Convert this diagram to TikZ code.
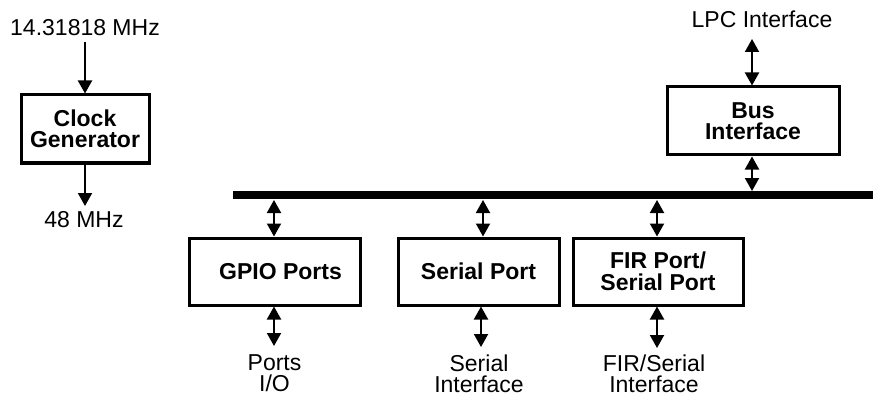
\documentclass[tikz,border=0pt]{standalone}
\usepackage{fontspec}
\setmainfont{Liberation Sans}
\usetikzlibrary{arrows.meta}
\begin{document}
\begin{tikzpicture}[x=1pt,y=-1pt,
  blk/.style={draw,line width=3pt,font=\fontsize{23}{21.5}\selectfont\bfseries,align=center,inner sep=0pt},
  lbl/.style={font=\fontsize{23}{21.5}\selectfont,align=center,inner sep=1pt},
  arr/.style={line width=2pt,-{Triangle[width=14pt,length=13pt]}},
  biarr/.style={line width=2pt,{Triangle[width=14pt,length=13pt]}-{Triangle[width=14pt,length=13pt]}},
  bus/.style={line width=8pt}]
\useasboundingbox (0,0) rectangle (874,398);
% clock
\node[blk,minimum width=128pt,minimum height=68pt] (clk) at (85,129) {Clock\\Generator};
\node[lbl] (freq) at (85,28) {14.31818 MHz};
\node[lbl] (out48) at (84,220) {48 MHz};
\draw[arr] (85,42) -- (clk.north);
\draw[arr] (clk.south) -- (85,206);
% bus bar
\coordinate (busL) at (233,195);
\coordinate (busR) at (873,195);
\draw[bus] (busL) -- (busR);
% bus interface
\node[blk,minimum width=172pt,minimum height=68pt] (bif) at (753,121) {Bus\\Interface};
\node[lbl] (lpc) at (762,19) {LPC Interface};
\coordinate (lpcT) at (752,39);
\draw[biarr] (lpcT) -- (lpcT |- bif.north);
\coordinate (bifB) at (752,191);
\draw[biarr] (bifB |- bif.south) -- (bifB);
% lower blocks
\node[blk,minimum width=171pt,minimum height=67pt] (gpio) at (274.5,271.5) {\hspace*{12pt}GPIO Ports};
\node[blk,minimum width=161pt,minimum height=67pt] (ser) at (478.5,271.5) {Serial Port};
\node[blk,minimum width=170pt,minimum height=67pt] (fir) at (658,271.5) {FIR Port/\\Serial Port};
\coordinate (gT) at (274,200);
\coordinate (sT) at (483,200);
\coordinate (fT) at (657,200);
\draw[biarr] (gT) -- (gT |- gpio.north);
\draw[biarr] (sT) -- (sT |- ser.north);
\draw[biarr] (fT) -- (fT |- fir.north);
% bottom labels
\node[lbl] (pio) at (274.5,373) {Ports\\I/O};
\node[lbl] (sif) at (479,374) {Serial\\Interface};
\node[lbl] (fif) at (654,374) {FIR/Serial\\Interface};
\coordinate (gB) at (274,346);
\coordinate (sB) at (481,347);
\coordinate (fB) at (657,348);
\draw[biarr] (gB |- gpio.south) -- (gB);
\draw[biarr] (sB |- ser.south) -- (sB);
\draw[biarr] (fB |- fir.south) -- (fB);
\end{tikzpicture}
\end{document}
